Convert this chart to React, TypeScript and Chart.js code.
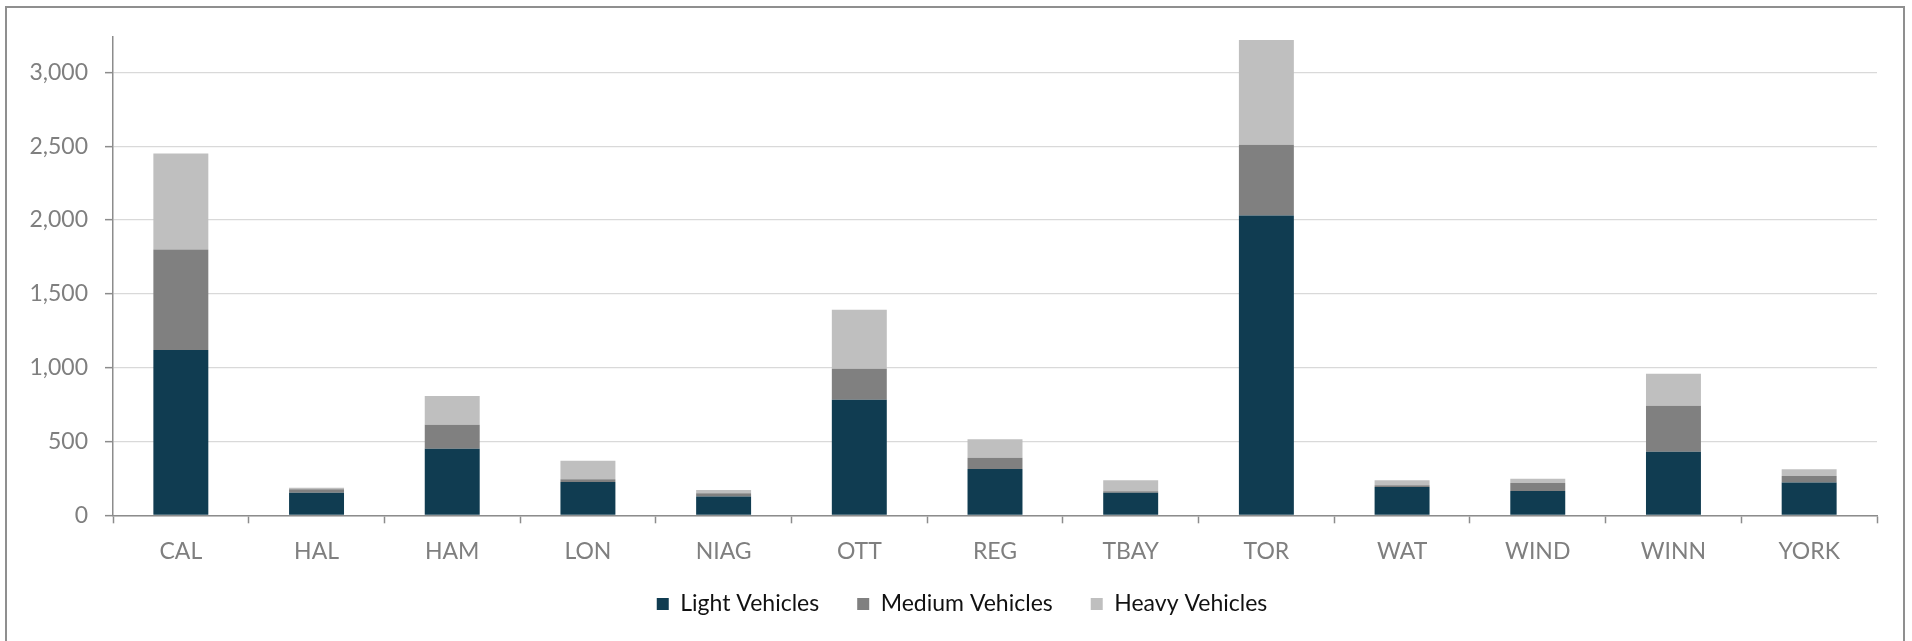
import React, { useEffect, useRef } from "react";
import { Chart, registerables } from "chart.js";

Chart.register(...registerables);

const categories = ["CAL", "HAL", "HAM", "LON", "NIAG", "OTT", "REG", "TBAY", "TOR", "WAT", "WIND", "WINN", "YORK"];
const lightVehicles = [1120, 152, 450, 226, 127, 783, 314, 152, 2030, 192, 165, 430, 222];
const mediumVehicles = [680, 24, 163, 18, 22, 210, 75, 11, 480, 12, 54, 312, 45];
const heavyVehicles = [650, 10, 195, 125, 23, 400, 127, 75, 710, 34, 28, 217, 45];
const seriesNames = ["Light Vehicles", "Medium Vehicles", "Heavy Vehicles"];
const yTickValues = [0, 500, 1000, 1500, 2000, 2500, 3000];

const colors = ["#103c51", "#808080", "#bfbfbf"];

const unclipLabels = {
  id: "unclipLabels",
  afterLayout(chart: any) {
    const x = chart.scales.x;
    if (x) x.bottom = chart.height;
    const y = chart.scales.y;
    if (y) y.left = 0;
  },
};

export default function App() {
  const canvasRef = useRef<HTMLCanvasElement | null>(null);

  useEffect(() => {
    document.body.style.margin = "0";
    const canvas = canvasRef.current;
    if (!canvas) return;
    const seriesData = [lightVehicles, mediumVehicles, heavyVehicles];
    const chart = new Chart(canvas, {
      type: "bar",
      data: {
        labels: categories,
        datasets: seriesNames.map((name, i) => ({
          label: name,
          data: seriesData[i],
          backgroundColor: colors[i],
          borderWidth: 0,
          barPercentage: 0.405,
          categoryPercentage: 1,
        })),
      },
      plugins: [unclipLabels],
      options: {
        responsive: false,
        animation: false,
        devicePixelRatio: 1,
        layout: { padding: { top: 37, right: 35, bottom: 15.5, left: 47 } },
        plugins: {
          legend: {
            position: "bottom",
            labels: {
              boxWidth: 12,
              boxHeight: 12,
              padding: 38,
              color: "#111111",
              font: { family: "Lato", size: 23 },
            },
          },
          tooltip: { enabled: false },
        },
        scales: {
          x: {
            stacked: true,
            grid: {
              display: true,
              drawOnChartArea: false,
              drawTicks: true,
              tickLength: 8,
              tickColor: "#8c8c8c",
              tickWidth: 1.5,
              offset: true,
            },
            border: { color: "#8c8c8c", width: 1.5 },
            ticks: {
              color: "#7f7f7f",
              font: { family: "Lato", size: 23 },
              padding: 14,
              maxRotation: 0,
            },
            afterFit: (s: any) => {
              s.height = 39.2;
            },
          },
          y: {
            stacked: true,
            min: 0,
            max: 3240,
            afterBuildTicks: (s: any) => {
              s.ticks = yTickValues.map((v) => ({ value: v }));
            },
            grid: {
              color: "#d9d9d9",
              lineWidth: 1.3,
              tickLength: 8,
              tickColor: "#8c8c8c",
              tickWidth: 1.5,
            },
            border: { color: "#8c8c8c", width: 1.5 },
            ticks: {
              color: "#7f7f7f",
              font: { family: "Lato", size: 23 },
              padding: 17,
            },
            afterFit: (s: any) => {
              s.width = 66;
            },
          },
        },
      },
    });
    return () => chart.destroy();
  }, []);

  return (
    <div style={{ position: "relative", width: 1912, height: 641, overflow: "hidden", background: "#ffffff" }}>
      <canvas ref={canvasRef} width={1912} height={641} style={{ position: "absolute", left: 0, top: 0 }} />
      <div
        style={{
          position: "absolute",
          left: 5,
          top: 6,
          width: 1900,
          height: 700,
          border: "2px solid #8f8f8f",
          boxSizing: "border-box",
          pointerEvents: "none",
        }}
      />
    </div>
  );
}
